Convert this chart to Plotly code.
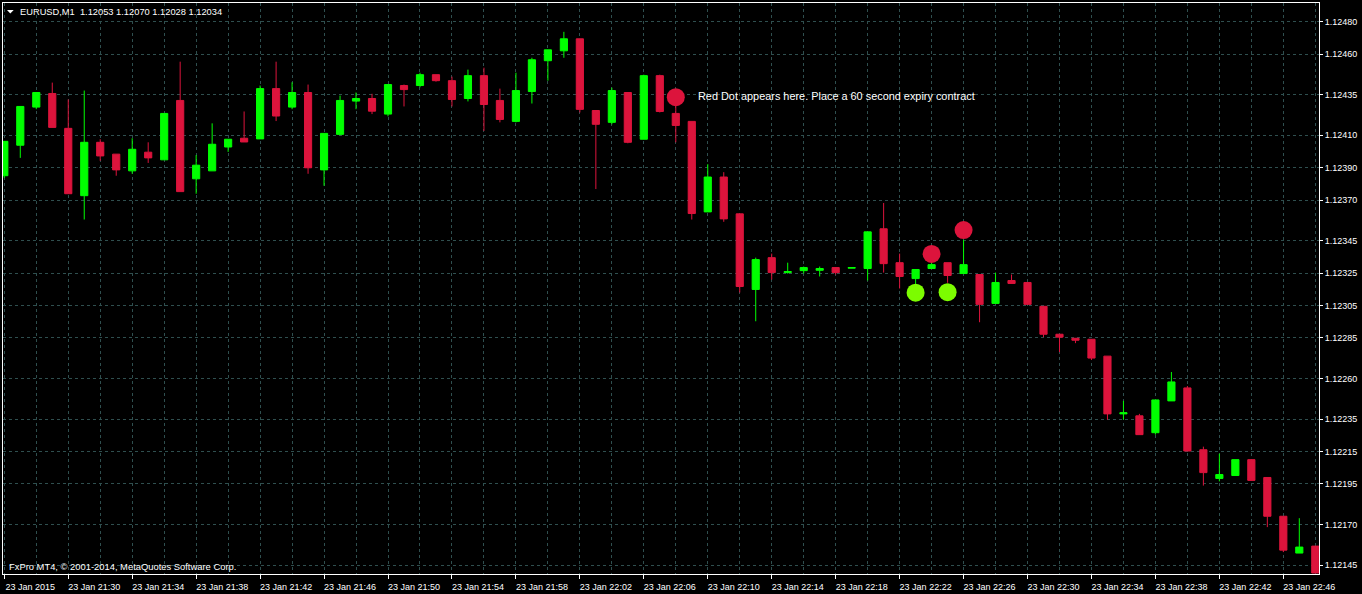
import plotly.graph_objects as go
import pandas as pd

# ---------------- data ----------------
times = [
    "21:26", "21:27", "21:28", "21:29", "21:30", "21:31", "21:32", "21:33", "21:34", "21:35",
    "21:36", "21:37", "21:38", "21:39", "21:40", "21:41", "21:42", "21:43", "21:44", "21:45",
    "21:46", "21:47", "21:48", "21:49", "21:50", "21:51", "21:52", "21:53", "21:54", "21:55",
    "21:56", "21:57", "21:58", "21:59", "22:00", "22:01", "22:02", "22:03", "22:04", "22:05",
    "22:06", "22:07", "22:08", "22:09", "22:10", "22:11", "22:12", "22:13", "22:14", "22:15",
    "22:16", "22:17", "22:18", "22:19", "22:20", "22:21", "22:22", "22:23", "22:24", "22:25",
    "22:26", "22:27", "22:28", "22:29", "22:30", "22:31", "22:32", "22:33", "22:34", "22:35",
    "22:36", "22:37", "22:38", "22:39", "22:40", "22:41", "22:42", "22:43", "22:44", "22:45",
    "22:46", "22:47", "22:48",
]

open_ = [
    1.123850, 1.124038, 1.124273, 1.124357, 1.124142, 1.123727, 1.124056, 1.123983, 1.123880, 1.123995,
    1.123948, 1.124314, 1.123831, 1.123880, 1.124027, 1.124081, 1.124077, 1.124387, 1.124273, 1.124363,
    1.123886, 1.124105, 1.124310, 1.124326, 1.124230, 1.124406, 1.124406, 1.124473, 1.124436, 1.124326,
    1.124467, 1.124314, 1.124185, 1.124369, 1.124559, 1.124620, 1.124694, 1.124252, 1.124179, 1.124363,
    1.124075, 1.124467, 1.124234, 1.124185, 1.123627, 1.123842, 1.123615, 1.123149, 1.123345, 1.123253,
    1.123265, 1.123267, 1.123284, 1.123280, 1.123278, 1.123523, 1.123314, 1.123216, 1.123278, 1.123314,
    1.123247, 1.123241, 1.123063, 1.123204, 1.123192, 1.123045, 1.122873, 1.122848, 1.122842, 1.122738,
    1.122382, 1.122370, 1.122266, 1.122462, 1.122542, 1.122161, 1.121984, 1.122002, 1.122100, 1.121990,
    1.121751, 1.121524, 1.121567,
]
high = [
    1.124062, 1.124277, 1.124363, 1.124424, 1.124320, 1.124375, 1.124075, 1.123983, 1.124081, 1.124056,
    1.124234, 1.124553, 1.123977, 1.124173, 1.124075, 1.124246, 1.124406, 1.124553, 1.124426, 1.124412,
    1.124111, 1.124344, 1.124363, 1.124355, 1.124412, 1.124412, 1.124485, 1.124473, 1.124461, 1.124504,
    1.124516, 1.124387, 1.124485, 1.124577, 1.124626, 1.124737, 1.124694, 1.124252, 1.124393, 1.124363,
    1.124473, 1.124473, 1.124280, 1.124185, 1.123921, 1.123872, 1.123615, 1.123345, 1.123370, 1.123314,
    1.123290, 1.123290, 1.123284, 1.123284, 1.123504, 1.123682, 1.123370, 1.123272, 1.123315, 1.123314,
    1.123455, 1.123241, 1.123253, 1.123241, 1.123192, 1.123045, 1.122873, 1.122848, 1.122842, 1.122738,
    1.122462, 1.122382, 1.122468, 1.122640, 1.122554, 1.122180, 1.122137, 1.122100, 1.122100, 1.121990,
    1.121751, 1.121739, 1.121567,
]
low = [
    1.123837, 1.123960, 1.124260, 1.124148, 1.123739, 1.123580, 1.123942, 1.123850, 1.123862, 1.123929,
    1.123948, 1.123752, 1.123739, 1.123880, 1.123997, 1.124058, 1.124077, 1.124187, 1.124260, 1.123862,
    1.123788, 1.124099, 1.124260, 1.124230, 1.124216, 1.124277, 1.124395, 1.124430, 1.124277, 1.124308,
    1.124126, 1.124179, 1.124179, 1.124295, 1.124436, 1.124577, 1.124240, 1.123768, 1.124167, 1.124050,
    1.124075, 1.124240, 1.124056, 1.123580, 1.123627, 1.123566, 1.123130, 1.122953, 1.123210, 1.123247,
    1.123247, 1.123229, 1.123241, 1.123280, 1.123204, 1.123253, 1.123155, 1.123170, 1.123278, 1.123190,
    1.123247, 1.122947, 1.123063, 1.123186, 1.123057, 1.122855, 1.122763, 1.122818, 1.122714, 1.122346,
    1.122346, 1.122254, 1.122254, 1.122462, 1.122153, 1.121940, 1.121966, 1.122002, 1.121972, 1.121684,
    1.121530, 1.121524, 1.121401,
]
close = [
    1.124062, 1.124277, 1.124363, 1.124148, 1.123739, 1.124056, 1.123972, 1.123886, 1.124013, 1.123960,
    1.124234, 1.123752, 1.123915, 1.124044, 1.124075, 1.124058, 1.124387, 1.124218, 1.124363, 1.123899,
    1.124111, 1.124314, 1.124326, 1.124248, 1.124412, 1.124381, 1.124473, 1.124436, 1.124320, 1.124467,
    1.124289, 1.124197, 1.124375, 1.124565, 1.124626, 1.124694, 1.124259, 1.124167, 1.124375, 1.124056,
    1.124467, 1.124246, 1.124160, 1.123617, 1.123842, 1.123584, 1.123167, 1.123333, 1.123253, 1.123259,
    1.123284, 1.123278, 1.123253, 1.123284, 1.123504, 1.123308, 1.123229, 1.123272, 1.123302, 1.123235,
    1.123302, 1.123057, 1.123192, 1.123186, 1.123057, 1.122873, 1.122855, 1.122836, 1.122726, 1.122382,
    1.122389, 1.122254, 1.122468, 1.122579, 1.122153, 1.122020, 1.122008, 1.122100, 1.121972, 1.121751,
    1.121542, 1.121561, 1.121401,
]

red_dot_times = ["22:08", "22:24", "22:26"]
red_dot_prices = [1.124334, 1.123368, 1.123515]
green_dot_times = ["22:23", "22:25"]
green_dot_prices = [1.123129, 1.123132]

y_tick_vals = [1.12480, 1.12460, 1.12435, 1.12410, 1.12390, 1.12370, 1.12345, 1.12325,
               1.12305, 1.12285, 1.12260, 1.12235, 1.12215, 1.12195, 1.12170, 1.12145]
y_tick_text = ["%.5f" % v for v in y_tick_vals]

x_tick_times = ["21:26", "21:30", "21:34", "21:38", "21:42", "21:46", "21:50", "21:54", "21:58",
                "22:02", "22:06", "22:10", "22:14", "22:18", "22:22", "22:26", "22:30", "22:34",
                "22:38", "22:42", "22:46"]
x_tick_text = ["23 Jan 2015"] + ["23 Jan " + t for t in x_tick_times[1:]]

header_text = "EURUSD,M1  1.12053 1.12070 1.12028 1.12034"
note_text = "Red Dot appears here. Place a 60 second expiry contract"
copyright_text = "FxPro MT4, © 2001-2014, MetaQuotes Software Corp."

DAY = "2015-01-23 "
x = [DAY + t for t in times]

# ---------------- styles ----------------
GREEN = "#00FF00"
RED = "#DC143C"
DOT_GREEN = "#7CFC00"
GRID = "#2F4F4F"
FONT = "Liberation Sans, Arial, sans-serif"

fig = go.Figure()
fig.add_trace(go.Candlestick(
    x=x, open=open_, high=high, low=low, close=close,
    increasing=dict(line=dict(color=GREEN, width=1), fillcolor=GREEN),
    decreasing=dict(line=dict(color=RED, width=1), fillcolor=RED),
    whiskerwidth=0, hoverinfo="skip", showlegend=False,
))
fig.add_trace(go.Scatter(
    x=[DAY + t for t in red_dot_times], y=red_dot_prices, mode="markers",
    marker=dict(size=18, color=RED, line=dict(width=0)), hoverinfo="skip", showlegend=False,
))
fig.add_trace(go.Scatter(
    x=[DAY + t for t in green_dot_times], y=green_dot_prices, mode="markers",
    marker=dict(size=18, color=DOT_GREEN, line=dict(width=0)), hoverinfo="skip", showlegend=False,
))

t_first = pd.Timestamp(x[0])
t_last = pd.Timestamp(x[-1])
x_range = [t_first - pd.Timedelta(seconds=4.9), t_last + pd.Timedelta(seconds=13.9)]

fig.update_layout(
    width=1362, height=594,
    margin=dict(l=2, r=43, t=2, b=18),
    paper_bgcolor="black", plot_bgcolor="black",
    font=dict(family=FONT, color="white", size=9),
    boxgap=0.36,
    showlegend=False,
    xaxis=dict(
        type="date", range=x_range,
        rangeslider=dict(visible=False),
        tickmode="array", tickvals=[DAY + t for t in x_tick_times], ticktext=x_tick_text,
        ticks="outside", ticklen=4, tickcolor="white", tickwidth=1,
        ticklabelshift=26, ticklabelstandoff=0,
        tickfont=dict(family=FONT, size=9, color="white"),
        showgrid=True, gridcolor=GRID, griddash="3px,3px", gridwidth=1,
        minor=dict(dtick=120000, tick0=DAY + times[0], showgrid=True,
                   gridcolor=GRID, griddash="3px,3px", gridwidth=1, ticks=""),
        showline=True, linecolor="white", linewidth=1, mirror=True,
        zeroline=False, fixedrange=True,
    ),
    yaxis=dict(
        side="right", range=[1.121395, 1.1249147],
        tickmode="array", tickvals=y_tick_vals, ticktext=y_tick_text,
        ticks="outside", ticklen=3, tickcolor="white", tickwidth=1,
        tickfont=dict(family=FONT, size=9, color="white"),
        showgrid=True, gridcolor=GRID, griddash="3px,3px", gridwidth=1,
        showline=True, linecolor="white", linewidth=1, mirror=True,
        zeroline=False, fixedrange=True,
    ),
)

# header triangle
fig.add_shape(type="path", xref="paper", yref="paper", xsizemode="pixel", ysizemode="pixel",
              xanchor=0, yanchor=1, path="M 4 -7 L 10.7 -7 L 7.3 -10.4 Z",
              fillcolor="white", line=dict(width=0))

fig.add_annotation(xref="paper", yref="paper", x=0, y=1, xanchor="left", yanchor="middle",
                   xshift=15, yshift=-8.5, text=header_text, showarrow=False,
                   font=dict(family=FONT, size=9.3, color="white"))
fig.add_annotation(xref="paper", yref="paper", x=0, y=0, xanchor="left", yanchor="middle",
                   xshift=4, yshift=8, text=copyright_text, showarrow=False,
                   font=dict(family=FONT, size=9.4, color="white"))
fig.add_annotation(x=DAY + red_dot_times[0], y=red_dot_prices[0], xanchor="left", yanchor="middle",
                   xshift=20, yshift=1, text=note_text, showarrow=False,
                   font=dict(family=FONT, size=10.9, color="white"))

fig.write_html(
    "out.html",
    config={"displayModeBar": False, "staticPlot": False},
    post_script="document.body.style.margin='0';document.body.style.padding='0';"
                "document.body.style.overflow='hidden';document.body.style.background='black';",
)
